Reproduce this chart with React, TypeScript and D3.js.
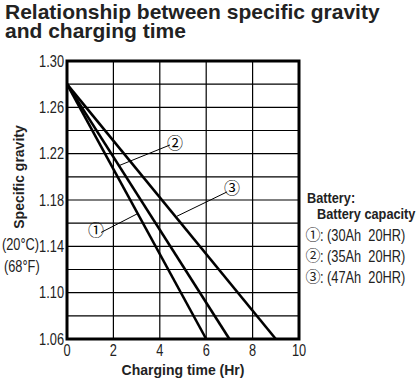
import React from "react";
import * as d3 from "d3";

const xTicks = [0, 2, 4, 6, 8, 10];
const yTicks = [1.06, 1.1, 1.14, 1.18, 1.22, 1.26, 1.3];
const yGrid = d3.range(1.06, 1.3001, 0.02);
const seriesNames = ["①", "②", "③"];
const startTime = [0, 0, 0];
const startGravity = [1.28, 1.28, 1.28];
const endTime = [6, 7, 9];
const endGravity = [1.06, 1.06, 1.06];
const legendLines = [": (30Ah\u00a0\u00a020HR)", ": (35Ah\u00a0\u00a020HR)", ": (47Ah\u00a0\u00a020HR)"];

const W = 419, H = 382;
const L = 67, R = 299, T = 61, B = 339;
const sans = "'Liberation Sans', Arial, sans-serif";
const circ = "'Noto Sans CJK JP', 'Liberation Sans', sans-serif";

function NText(props: { x: number; y: number; anchor?: string; size?: number; bold?: boolean; sx?: number; children: React.ReactNode; dy?: string }) {
  const { x, y, anchor = "start", size = 16, bold = false, sx = 0.8, children, dy } = props;
  return (
    <text transform={`translate(${x},${y}) scale(${sx},1)`} textAnchor={anchor} dy={dy} fontFamily={sans} fontWeight={bold ? "bold" : "normal"} fontSize={size} fill="#222">
      {children}
    </text>
  );
}

export default function App() {
  const x = d3.scaleLinear().domain([0, 10]).range([L, R]);
  const y = d3.scaleLinear().domain([1.06, 1.3]).range([B, T]);
  const line = d3.line<[number, number]>().x(d => x(d[0])).y(d => y(d[1]));

  const labels = [
    { c: [1.25, 1.154], from: [1.47, 1.152], to: [3.02, 1.168] },
    { c: [4.66, 1.229], from: [4.44, 1.2275], to: [2.28, 1.21] },
    { c: [7.11, 1.19], from: [6.9, 1.187], to: [4.74, 1.166] },
  ];

  return (
    <svg width={W} height={H} style={{ position: "absolute", left: 0, top: 0 }}>
      <rect width={W} height={H} fill="#fff" />
      <text x={5} y={19} fontFamily={sans} fontWeight="bold" fontSize={21} fill="#222">Relationship between specific gravity</text>
      <text x={5} y={38} fontFamily={sans} fontWeight="bold" fontSize={21} fill="#222">and charging time</text>

      {yGrid.map((v, i) => (
        <line key={"gy" + i} x1={L} x2={R} y1={y(v)} y2={y(v)} stroke="#000" strokeWidth={1.2} />
      ))}
      {xTicks.map((v, i) => (
        <line key={"gx" + i} x1={x(v)} x2={x(v)} y1={T} y2={B} stroke="#000" strokeWidth={1.2} />
      ))}
      <rect x={L} y={T} width={R - L} height={B - T} fill="none" stroke="#000" strokeWidth={3} />

      {seriesNames.map((n, i) => (
        <path key={n} d={line([[startTime[i], startGravity[i]], [endTime[i], endGravity[i]]]) || ""} stroke="#000" strokeWidth={2.6} fill="none" />
      ))}

      {labels.map((lb, i) => (
        <g key={"lb" + i}>
          <line x1={x(lb.from[0])} y1={y(lb.from[1])} x2={x(lb.to[0])} y2={y(lb.to[1])} stroke="#000" strokeWidth={1} />
          <text x={x(lb.c[0])} y={y(lb.c[1])} dy="0.36em" textAnchor="middle" fontFamily={circ} fontSize={16} fill="#000">{seriesNames[i]}</text>
        </g>
      ))}

      {yTicks.map((v, i) => (
        <NText key={"yt" + i} x={L - 3} y={y(v)} dy="0.36em" anchor="end">{v.toFixed(2)}</NText>
      ))}
      {xTicks.map((v, i) => (
        <NText key={"xt" + i} x={x(v)} y={B + 17} anchor="middle">{v}</NText>
      ))}

      <text x={183} y={375} textAnchor="middle" fontFamily={sans} fontWeight="bold" fontSize={14} fill="#222">Charging time (Hr)</text>
      <text transform={`translate(24,177) rotate(-90)`} textAnchor="middle" fontFamily={sans} fontWeight="bold" fontSize={14} fill="#222">Specific gravity</text>
      <NText x={2} y={250}>(20°C)</NText>
      <NText x={4} y={272}>(68°F)</NText>

      <NText x={307} y={203} bold size={15} sx={0.85}>Battery:</NText>
      <NText x={317} y={219} bold size={15} sx={0.85}>Battery capacity</NText>
      {legendLines.map((t, i) => (
        <g key={"lg" + i}>
          <text x={313} y={235 + i * 21} dy="0.36em" textAnchor="middle" fontFamily={circ} fontSize={15} fill="#222">{seriesNames[i]}</text>
          <NText x={320} y={241 + i * 21}>{t}</NText>
        </g>
      ))}
    </svg>
  );
}
